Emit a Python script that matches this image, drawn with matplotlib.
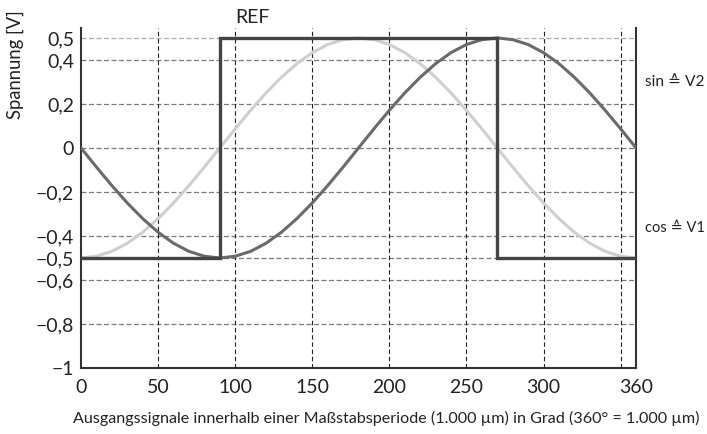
import matplotlib
matplotlib.use("Agg")
import matplotlib.pyplot as plt
from matplotlib.transforms import blended_transform_factory

plt.rcParams["font.family"] = ["Lato", "DejaVu Sans"]

# Winkel in Grad (10°-Schritte)
deg = [0, 10, 20, 30, 40, 50, 60, 70, 80, 90, 100, 110, 120, 130, 140, 150, 160, 170, 180,
       190, 200, 210, 220, 230, 240, 250, 260, 270, 280, 290, 300, 310, 320, 330, 340, 350, 360]

# sin ≙ V2 (dunkelgrau)
v2 = [0, -0.087, -0.171, -0.25, -0.321, -0.383, -0.433, -0.47, -0.492, -0.5,
      -0.492, -0.47, -0.433, -0.383, -0.321, -0.25, -0.171, -0.087, 0,
      0.087, 0.171, 0.25, 0.321, 0.383, 0.433, 0.47, 0.492, 0.5,
      0.492, 0.47, 0.433, 0.383, 0.321, 0.25, 0.171, 0.087, 0]

# cos ≙ V1 (hellgrau)
v1 = [-0.5, -0.492, -0.47, -0.433, -0.383, -0.321, -0.25, -0.171, -0.087, 0,
      0.087, 0.171, 0.25, 0.321, 0.383, 0.433, 0.47, 0.492, 0.5,
      0.492, 0.47, 0.433, 0.383, 0.321, 0.25, 0.171, 0.087, 0,
      -0.087, -0.171, -0.25, -0.321, -0.383, -0.433, -0.47, -0.492, -0.5]

# Referenzsignal
ref_x = [0, 90, 90, 270, 270, 360]
ref_y = [-0.5, -0.5, 0.5, 0.5, -0.5, -0.5]

yticks = [0.5, 0.4, 0.2, 0, -0.2, -0.4, -0.5, -0.6, -0.8, -1]
ytick_labels = ["0,5", "0,4", "0,2", "0", "−0,2", "−0,4", "−0,5", "−0,6", "−0,8", "−1"]
xticks = [0, 50, 100, 150, 200, 250, 300, 360]
xgrid = [50, 100, 150, 200, 250, 300, 350]

xlabel = "Ausgangssignale innerhalb einer Maßstabsperiode (1.000 µm) in Grad (360° = 1.000 µm)"

fig = plt.figure(figsize=(7.07, 4.34), dpi=100)
ax = fig.add_axes([0.1146, 0.152, 0.785, 0.7835])
ax.set_xlim(0, 360)
ax.set_ylim(-1, 0.545)

# Gitter
for y in yticks:
    if y == -1:
        continue
    c = "#aaaaaa" if y == 0.5 else "#7a7a7a"
    ax.axhline(y, color=c, lw=0.9, dashes=(4, 2), zorder=1)
for x in xgrid:
    ax.axvline(x, color="#222222", lw=0.8, dashes=(4, 2.5), zorder=1)

ax.plot(deg, v1, color="#cfcfcf", lw=2.2, zorder=2)
ax.plot(deg, v2, color="#6a6a6a", lw=2.2, zorder=3)
ax.plot(ref_x, ref_y, color="#444444", lw=2.4, zorder=4, solid_joinstyle="miter")

ax.spines["top"].set_visible(False)
for s in ["left", "bottom", "right"]:
    ax.spines[s].set_color("#333333")
    ax.spines[s].set_linewidth(1.5)

fs = 14
ax.set_yticks(yticks)
ax.set_yticklabels(ytick_labels)
ax.set_xticks(xticks)
ax.set_xticklabels([str(v) for v in xticks])
ax.tick_params(length=0, labelsize=fs, colors="#222222")
ax.tick_params(axis="x", pad=8)
ax.tick_params(axis="y", pad=5)


def fit(text, width_px):
    # Schriftgröße so wählen, dass der Text die Breite der Vorlage hat
    fig.canvas.draw()
    w = text.get_window_extent().width
    text.set_fontsize(min(fs, text.get_fontsize() * width_px / w))


t = fig.text((72 + 700) / 2 / 707, 0.018, xlabel, fontsize=fs, color="#222222",
             ha="center", va="bottom")
fit(t, 628)

yl = fig.text(0.022, 0.85, "Spannung [V]", rotation=90, fontsize=fs, color="#222222",
              ha="center", va="center")
fig.canvas.draw()
h = yl.get_window_extent().height
yl.set_fontsize(fs * 110 / h)

ax.text(100, 0.552, "REF", fontsize=fs, color="#222222", ha="left", va="bottom", clip_on=False)

trans = blended_transform_factory(fig.transFigure, ax.transData)
s1 = ax.text(645 / 707, 0.3, "sin ≙ V2", transform=trans, fontsize=fs,
             color="#222222", ha="left", va="center")
s2 = ax.text(645 / 707, -0.365, "cos ≙ V1", transform=trans, fontsize=fs,
             color="#222222", ha="left", va="center")
fit(s1, 60)
fit(s2, 60)

fig.savefig("out.png", dpi=100)
